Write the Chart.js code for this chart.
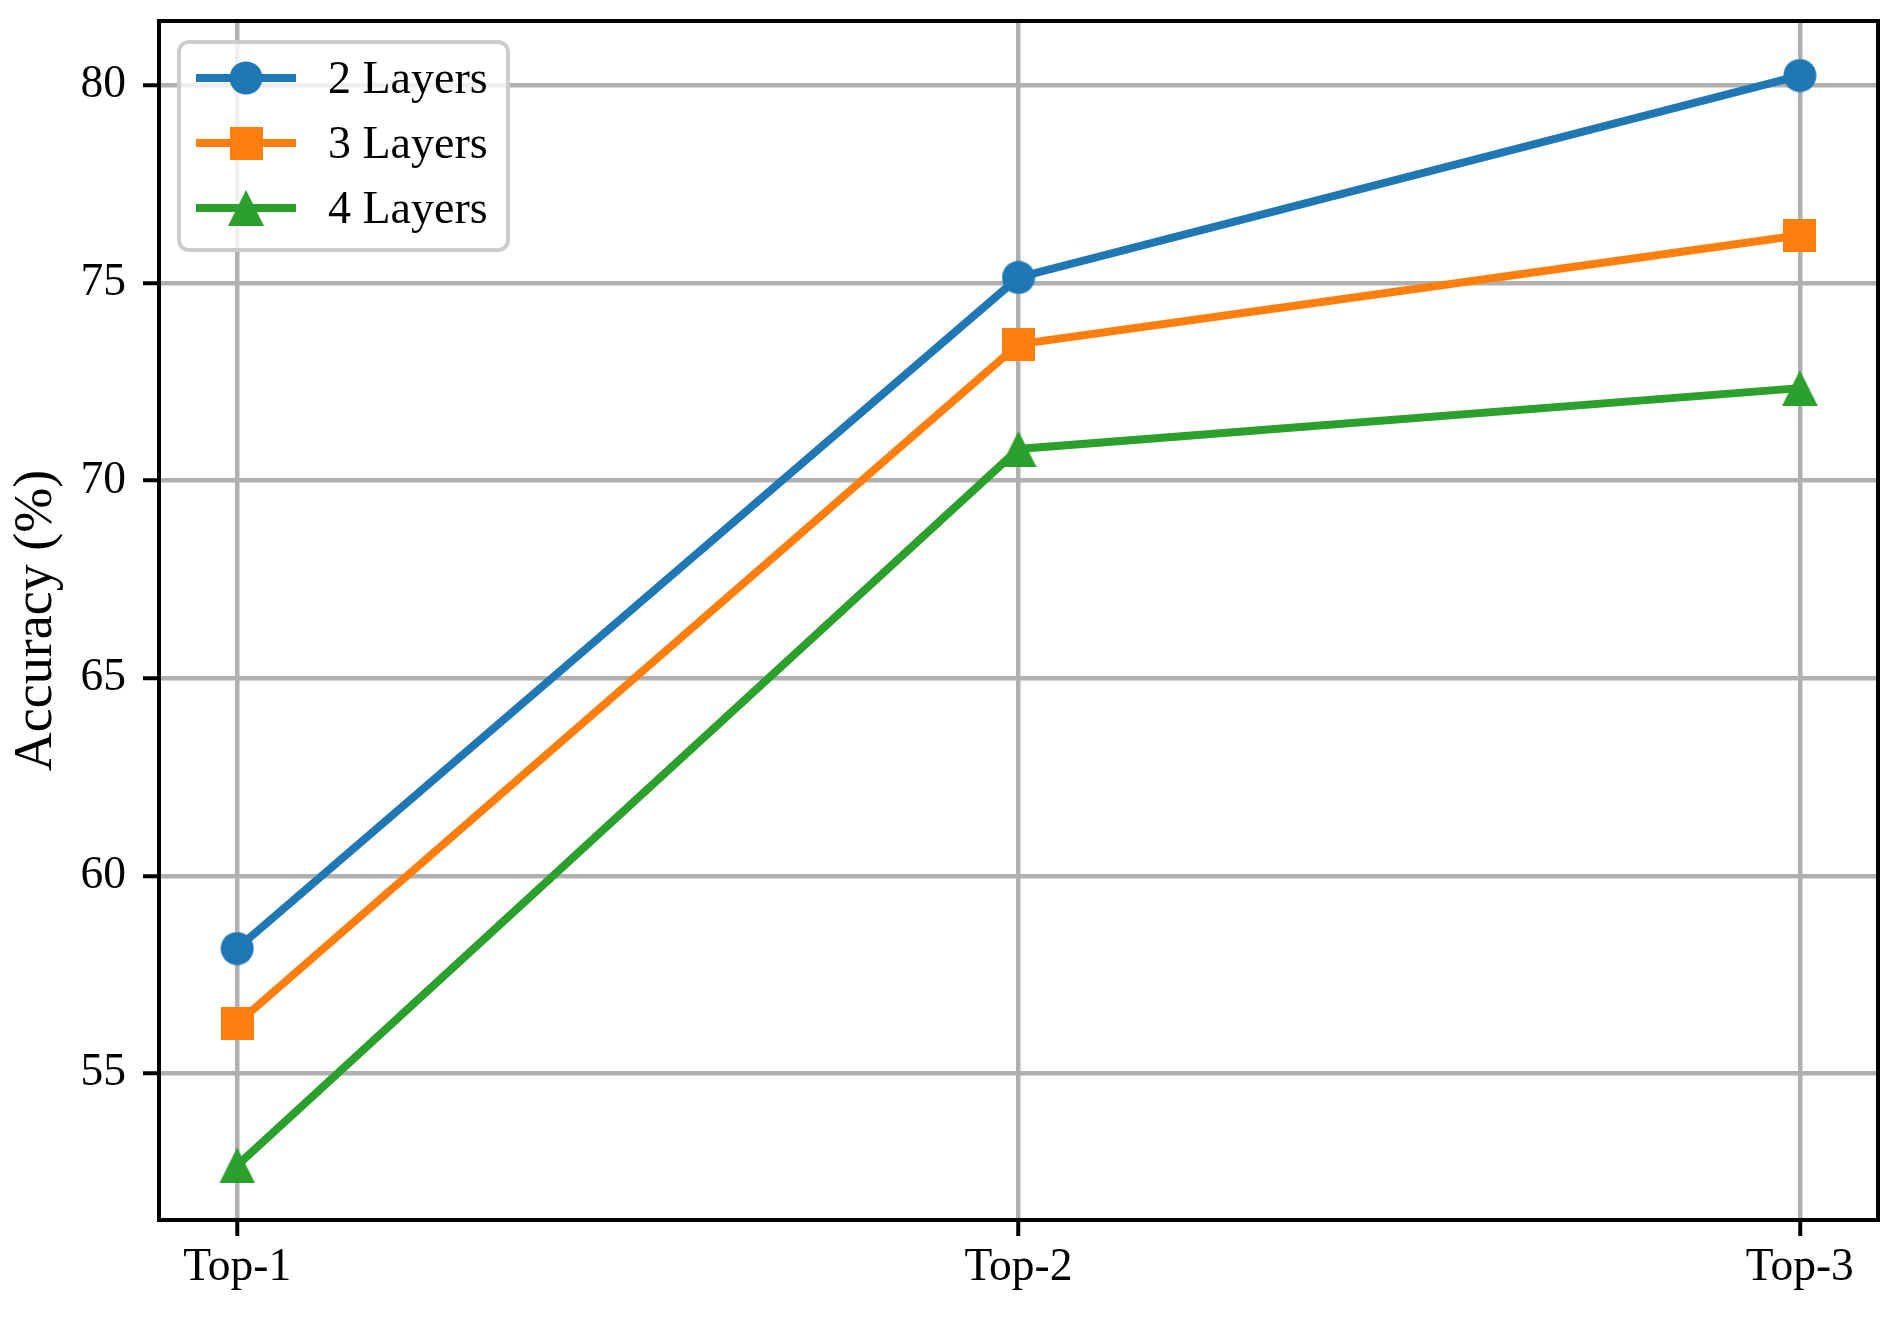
<!DOCTYPE html>
<html>
<head>
<meta charset="utf-8">
<script src="https://cdn.jsdelivr.net/npm/chart.js@4.4.1/dist/chart.umd.min.js"></script>
<style>
  html, body { margin: 0; padding: 0; background: #fff; }
  #wrap { width: 1901px; height: 1322px; position: relative; }
</style>
</head>
<body>
<div id="wrap"><canvas id="acc"></canvas></div>
<script>
// values
var categories = ['Top-1', 'Top-2', 'Top-3'];
var layers2 = [58.16, 75.14, 80.25];
var layers3 = [56.26, 73.45, 76.21];
var layers4 = [52.67, 70.80, 72.34];
var yTicks = [55, 60, 65, 70, 75, 80];

var FONT = "'Liberation Serif', 'Times New Roman', serif";
Chart.defaults.font.family = FONT;
Chart.defaults.color = '#000';

// marker images so chart and legend use the same shapes
function marker(kind, color) {
    var c = document.createElement('canvas');
    var s = kind === 'triangle' ? 36 : (kind === 'rect' ? 33 : 34);
    c.width = s; c.height = s;
    var g = c.getContext('2d');
    g.fillStyle = color;
    g.beginPath();
    if (kind === 'circle') {
        g.arc(s / 2, s / 2, 16.5, 0, Math.PI * 2);
    } else if (kind === 'rect') {
        g.rect(0, 0, s, s);
    } else {
        g.moveTo(0, s); g.lineTo(s / 2, 0); g.lineTo(s, s);
        g.closePath();
    }
    g.fill();
    return c;
}

function toPoints(vals) {
    return vals.map(function(v, i) { return {x: i, y: v}; });
}

function makeSet(label, vals, color, kind, order) {
    return {
        label: label,
        data: toPoints(vals),
        borderColor: color,
        backgroundColor: color,
        borderWidth: 8,
        tension: 0,
        fill: false,
        pointStyle: marker(kind, color),
        order: order
    };
}

var frameAndLegend = {
    id: 'frameAndLegend',
    afterDraw: function(chart) {
        var ctx = chart.ctx;
        var a = chart.chartArea;
        ctx.save();
        // axes frame
        ctx.strokeStyle = '#000';
        ctx.lineWidth = 4;
        ctx.strokeRect(a.left, a.top, a.right - a.left, a.bottom - a.top);

        // legend box
        var bx = 179, by = 42, bw = 329, bh = 208, r = 10;
        ctx.beginPath();
        ctx.moveTo(bx + r, by);
        ctx.arcTo(bx + bw, by, bx + bw, by + bh, r);
        ctx.arcTo(bx + bw, by + bh, bx, by + bh, r);
        ctx.arcTo(bx, by + bh, bx, by, r);
        ctx.arcTo(bx, by, bx + bw, by, r);
        ctx.closePath();
        ctx.fillStyle = 'rgba(255,255,255,0.8)';
        ctx.fill();
        ctx.strokeStyle = '#cccccc';
        ctx.lineWidth = 4;
        ctx.stroke();

        ctx.font = '46px ' + FONT;
        ctx.textBaseline = 'alphabetic';
        ctx.textAlign = 'left';
        chart.data.datasets.forEach(function(ds, i) {
            var cy = 78 + i * 65;
            ctx.strokeStyle = ds.borderColor;
            ctx.lineWidth = 8;
            ctx.beginPath();
            ctx.moveTo(196, cy);
            ctx.lineTo(296, cy);
            ctx.stroke();
            var img = ds.pointStyle;
            ctx.drawImage(img, 246 - img.width / 2, cy - img.height / 2);
            ctx.fillStyle = '#000';
            ctx.fillText(ds.label, 328, cy + 15);
        });
        ctx.restore();
    }
};

var ctx = document.getElementById('acc').getContext('2d');
var chart = new Chart(ctx, {
    type: 'line',
    data: {
        datasets: [
            makeSet('2 Layers', layers2, '#1f77b4', 'circle', 3),
            makeSet('3 Layers', layers3, '#ff7f0e', 'rect', 2),
            makeSet('4 Layers', layers4, '#2ca02c', 'triangle', 1)
        ]
    },
    plugins: [frameAndLegend],
    options: {
        responsive: true,
        maintainAspectRatio: false,
        animation: false,
        layout: { autoPadding: false, padding: { left: 0, top: 21, right: 23, bottom: 0 } },
        plugins: {
            legend: { display: false },
            tooltip: { enabled: false }
        },
        scales: {
            x: {
                type: 'linear',
                min: -0.1,
                max: 2.1,
                afterBuildTicks: function(scale) {
                    scale.ticks = categories.map(function(c, i) { return {value: i}; });
                },
                afterFit: function(scale) {
                    scale.height = 102;
                    scale.paddingLeft = 0;
                    scale.paddingRight = 0;
                },
                ticks: {
                    font: { size: 45.5 },
                    padding: 5,
                    maxRotation: 0,
                    autoSkip: false,
                    callback: function(v) { return categories[v]; }
                },
                grid: {
                    color: '#b0b0b0',
                    lineWidth: 4.5,
                    tickColor: '#000',
                    tickWidth: 4,
                    tickLength: 16
                },
                border: { display: false }
            },
            y: {
                min: 51.29,
                max: 81.63,
                afterBuildTicks: function(scale) {
                    scale.ticks = yTicks.map(function(v) { return {value: v}; });
                },
                afterFit: function(scale) {
                    scale.width = 159;
                    scale.paddingTop = 0;
                    scale.paddingBottom = 0;
                },
                title: {
                    display: true,
                    text: 'Accuracy (%)',
                    font: { size: 54 },
                    padding: { top: 4, bottom: 0 }
                },
                ticks: {
                    font: { size: 45.5 },
                    padding: 17,
                    callback: function(v) { return v; }
                },
                grid: {
                    color: '#b0b0b0',
                    lineWidth: 4.5,
                    tickColor: '#000',
                    tickWidth: 4,
                    tickLength: 16
                },
                border: { display: false }
            }
        }
    }
});
</script>
</body>
</html>
